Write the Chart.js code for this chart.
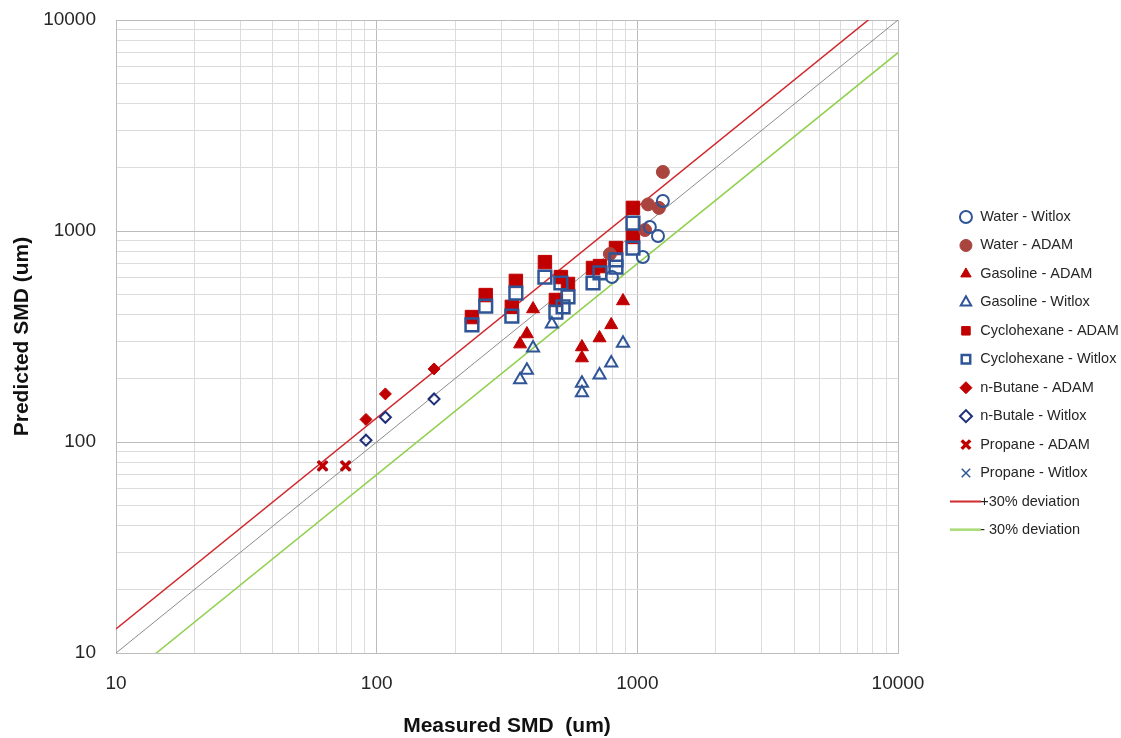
<!DOCTYPE html>
<html>
<head>
<meta charset="utf-8">
<script src="https://cdn.jsdelivr.net/npm/chart.js@4.4.0/dist/chart.umd.min.js"></script>
<style>
html,body{margin:0;padding:0;background:#fff;}
#wrap{width:1121px;height:738px;}
</style>
</head>
<body>
<div id="wrap"><canvas id="c" width="1121" height="738"></canvas></div>
<script>
// ---- data ----
const waterWitloxX = [1253, 1117, 1200, 1050, 799];
const waterWitloxY = [1387, 1045, 947, 753, 605];
const waterAdamX = [1253, 1099, 1210, 1070, 785];
const waterAdamY = [1905, 1337, 1287, 1011, 778];
const gasolineAdamX = [398, 377, 355, 613, 613, 716, 794, 881];
const gasolineAdamY = [427, 325, 291, 282, 250, 311, 359, 466];
const gasolineWitloxX = [470, 398, 377, 355, 613, 613, 716, 794, 881];
const gasolineWitloxY = [362, 279, 219, 197, 190, 171, 208, 237, 294];
const cycloAdamX = [232, 262, 330, 342, 442, 487, 509, 542, 676, 719, 828, 962, 962];
const cycloAdamY = [391, 497, 437, 580, 712, 471, 605, 561, 668, 682, 830, 1287, 937];
const cycloWitloxX = [232, 262, 330, 342, 442, 487, 519, 509, 542, 676, 719, 828, 828, 962, 962];
const cycloWitloxY = [359, 441, 395, 508, 605, 413, 437, 567, 487, 567, 633, 729, 675, 1091, 830];
const butaneAdamX = [91, 108, 166];
const butaneAdamY = [128, 169, 222];
const butaleWitloxX = [91, 108, 166];
const butaleWitloxY = [102, 131, 160];
const propaneAdamX = [62, 76];
const propaneAdamY = [77, 77];
const propaneWitloxX = [62, 76];
const propaneWitloxY = [77, 77];
const lineX = [10, 10000];
const plus30Y = [13, 13000];
const minus30Y = [7, 7000];
const parityY = [10, 10000];
const decadeTicks = [10, 100, 1000, 10000];
const minorMultipliers = [2, 3, 4, 5, 6, 7, 8, 9];

// ---- helpers ----
const zip = (xs, ys) => xs.map((x, i) => ({x: x, y: ys[i]}));
const gridValues = [];
decadeTicks.forEach((d, i) => {
  gridValues.push(d);
  if (i < decadeTicks.length - 1) minorMultipliers.forEach(m => gridValues.push(d * m));
});
const isDecade = v => decadeTicks.indexOf(v) >= 0;

function lineIcon(color) {
  const cv = document.createElement('canvas');
  cv.width = 31; cv.height = 3;
  const g = cv.getContext('2d');
  g.strokeStyle = color; g.lineWidth = 2;
  g.beginPath(); g.moveTo(0, 1.5); g.lineTo(31, 1.5); g.stroke();
  return cv;
}

const BLUE = '#2f5597';
const NAVY = '#1f2f7a';
const RED = '#c00000';
const BROWN = '#a9443f';
const CLEAR = 'rgba(0,0,0,0)';

function pts(label, xs, ys, style, radius, fill, border, bw, order) {
  return {
    label: label, data: zip(xs, ys), pointStyle: style, pointRadius: radius,
    pointHoverRadius: radius, pointBackgroundColor: fill, backgroundColor: fill,
    pointBorderColor: border, borderColor: border, pointBorderWidth: bw, borderWidth: bw,
    showLine: false, order: order
  };
}
function ln(label, ys, color, width, icon) {
  return {
    label: label, data: zip(lineX, ys), showLine: true, borderColor: color,
    backgroundColor: color, borderWidth: width, pointRadius: 0, pointHoverRadius: 0,
    pointStyle: icon || 'line', pointBorderColor: color, pointBackgroundColor: color,
    pointBorderWidth: width, order: 10, fill: false
  };
}

const datasets = [
  pts('Water - Witlox', waterWitloxX, waterWitloxY, 'circle', 6, CLEAR, BLUE, 2, 1),
  pts('Water - ADAM', waterAdamX, waterAdamY, 'circle', 6.5, BROWN, BROWN, 1, 2),
  pts('Gasoline - ADAM', gasolineAdamX, gasolineAdamY, 'triangle', 7.5, RED, RED, 1, 4),
  pts('Gasoline - Witlox', gasolineWitloxX, gasolineWitloxY, 'triangle', 7, CLEAR, BLUE, 2, 1),
  pts('Cyclohexane - ADAM', cycloAdamX, cycloAdamY, 'rect', 9.5, RED, RED, 1, 3),
  pts('Cyclohexane - Witlox', cycloWitloxX, cycloWitloxY, 'rect', 9, CLEAR, BLUE, 2.5, 1),
  pts('n-Butane - ADAM', butaneAdamX, butaneAdamY, 'rectRot', 6, RED, RED, 1, 4),
  pts('n-Butale - Witlox', butaleWitloxX, butaleWitloxY, 'rectRot', 5.5, CLEAR, NAVY, 2, 1),
  pts('Propane - ADAM', propaneAdamX, propaneAdamY, 'crossRot', 6.5, RED, RED, 3.5, 2),
  pts('Propane - Witlox', propaneWitloxX, propaneWitloxY, 'crossRot', 7, BLUE, BLUE, 1.5, 3),
  ln('+30% deviation', plus30Y, '#d0282e', 1.5, lineIcon('#d0282e')),
  ln('- 30% deviation', minus30Y, '#92d050', 1.5, lineIcon('#92d050')),
  ln('parity', parityY, '#8c8c8c', 1, null)
];

const FONT = "'Liberation Sans', Arial, sans-serif";

function logAxis(title, titleFont, titlePadding, tickPadding) {
  return {
    type: 'logarithmic', min: 10, max: 10000,
    afterBuildTicks: s => { s.ticks = gridValues.map(v => ({value: v, major: isDecade(v)})); },
    ticks: {
      autoSkip: false, maxRotation: 0, padding: tickPadding,
      color: '#262626', font: {family: FONT, size: 19},
      callback: v => isDecade(v) ? String(v) : ''
    },
    grid: {
      drawTicks: false, lineWidth: 1,
      color: c => (c.tick && isDecade(c.tick.value)) ? '#bcbcbc' : '#dcdcdc'
    },
    border: {color: '#bcbcbc', width: 1},
    title: {display: true, text: title, color: '#111', padding: titlePadding, font: titleFont}
  };
}

const xAxis = logAxis('Measured SMD  (um)', {family: FONT, size: 21, weight: 'bold', lineHeight: 1.1},
                      {top: 0, bottom: 0}, 19);
xAxis.afterFit = s => { s.height = 85; s.paddingRight = 223; };
const yAxis = logAxis('Predicted SMD (um)', {family: FONT, size: 21, weight: 'bold', lineHeight: 1.2},
                      {top: 4, bottom: 4}, 20);
yAxis.afterFit = s => { s.width = 110; s.paddingTop = 20; };

// move the legend box to the right-hand column used by the reference
const legendColumn = {
  id: 'legendColumn',
  afterLayout(chart) {
    const L = chart.legend;
    if (!L) return;
    const w = L.right - L.left;
    L.left = 945; L.right = 945 + w;
  }
};

new Chart(document.getElementById('c'), {
  type: 'scatter',
  data: {datasets: datasets},
  plugins: [legendColumn],
  options: {
    responsive: false, animation: false,
    layout: {padding: {left: 6, right: -5, top: 9, bottom: 0}},
    scales: {x: xAxis, y: yAxis},
    plugins: {
      tooltip: {enabled: false},
      legend: {
        position: 'right',
        labels: {
          usePointStyle: true, boxWidth: 14, boxHeight: 8.5, padding: 13.95,
          color: '#262626', font: {family: FONT, size: 14.5},
          filter: item => item.text !== 'parity',
          sort: (a, b) => a.datasetIndex - b.datasetIndex
        }
      }
    }
  }
});
</script>
</body>
</html>
